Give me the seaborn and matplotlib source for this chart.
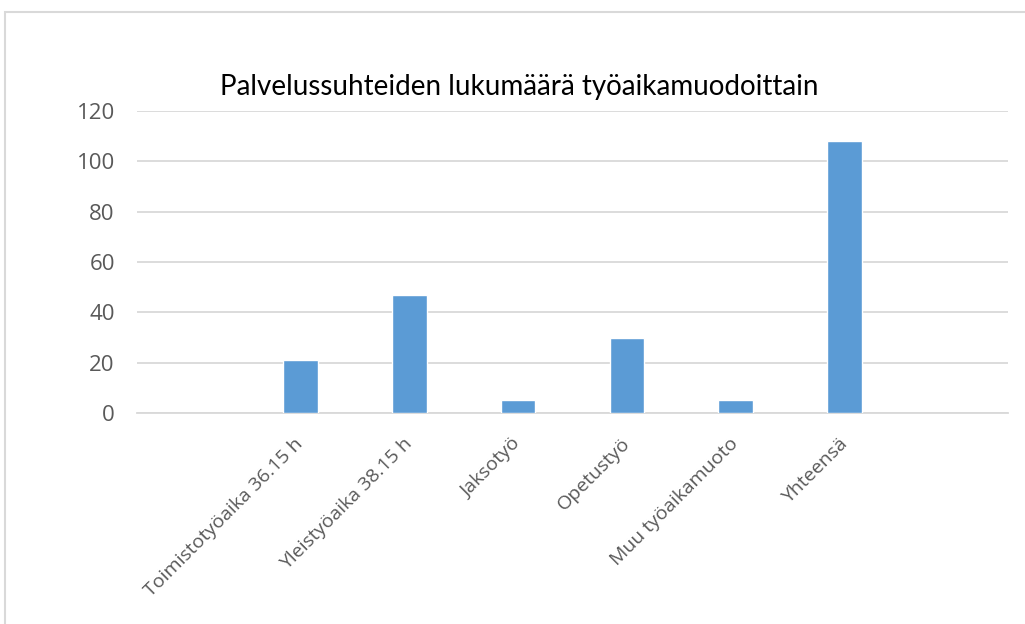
import matplotlib
matplotlib.use("Agg")
import matplotlib.pyplot as plt
import seaborn as sns
import pandas as pd
from matplotlib.patches import Rectangle

# Data
categories = ["Toimistotyöaika 36.15 h", "Yleistyöaika 38.15 h", "Jaksotyö",
              "Opetustyö", "Muu työaikamuoto", "Yhteensä"]
values = [21, 47, 5, 30, 5, 108]
y_ticks = [0, 20, 40, 60, 80, 100, 120]
title = "Palvelussuhteiden lukumäärä työaikamuodoittain"

df = pd.DataFrame({"category": categories, "value": values})

sns.set_style("white")
plt.rcParams["font.family"] = ["Open Sans", "DejaVu Sans"]

fig = plt.figure(figsize=(10.25, 6.24), dpi=100)
ax = fig.add_axes([0.1337, 0.3381, 0.8497, 0.4840])

sns.barplot(data=df, x="category", y="value", color="#5B9BD5", saturation=1,
            width=0.32, ax=ax, zorder=3)

ax.set_xlim(-1.5, len(categories) + 0.5)
ax.set_ylim(0, 120)
ax.set_yticks(y_ticks)
ax.yaxis.grid(True, color="#D9D9D9", linewidth=1.3, zorder=0)
ax.set_axisbelow(True)
for s in ["top", "right", "left"]:
    ax.spines[s].set_visible(False)
ax.spines["bottom"].set_color("#D9D9D9")
ax.spines["bottom"].set_linewidth(1.3)
ax.set_xlabel("")
ax.set_ylabel("")
ax.tick_params(axis="both", length=0, labelcolor="#595959")
ax.tick_params(axis="y", pad=16, labelsize=16)
ax.tick_params(axis="x", pad=20, labelsize=14)
plt.setp(ax.get_xticklabels(), rotation=45, ha="right", va="center",
         rotation_mode="anchor")

fig.text(0.507, 0.86, title, ha="center", va="center", fontsize=20,
         family=["Lato", "DejaVu Sans"], color="#000000")

fig.patches.append(Rectangle((5 / 1025, -0.1), 1.2, 0.1 + 1 - 12 / 624,
                             transform=fig.transFigure, fill=False,
                             edgecolor="#D9D9D9", linewidth=1.5))

fig.savefig("out.png", dpi=100)
